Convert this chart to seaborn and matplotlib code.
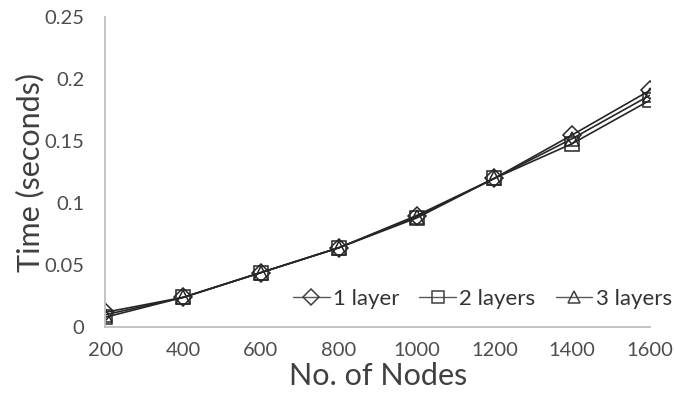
import matplotlib
matplotlib.use("Agg")
import matplotlib.pyplot as plt
import seaborn as sns
import pandas as pd

nodes = [200, 400, 600, 800, 1000, 1200, 1400, 1600]
layer1 = [0.012, 0.024, 0.044, 0.064, 0.090, 0.120, 0.155, 0.191]
layer2 = [0.008, 0.024, 0.044, 0.064, 0.088, 0.120, 0.148, 0.183]
layer3 = [0.010, 0.024, 0.044, 0.064, 0.089, 0.120, 0.152, 0.187]
series_names = ["1 layer", "2 layers", "3 layers"]
y_ticks = [0, 0.05, 0.1, 0.15, 0.2, 0.25]
y_tick_labels = ["0", "0.05", "0.1", "0.15", "0.2", "0.25"]

sns.set_theme(style="white")
plt.rcParams["font.family"] = ["Lato", "DejaVu Sans"]

frames = []
for name, vals in zip(series_names, [layer1, layer2, layer3]):
    frames.append(pd.DataFrame({"Nodes": nodes, "Time": vals, "Series": name}))
df = pd.concat(frames, ignore_index=True)

fig = plt.figure(figsize=(6.75, 3.98), dpi=100)
ax = fig.add_axes([0.156, 0.178, 0.807, 0.779])

line_color = "#262626"
sns.lineplot(
    data=df, x="Nodes", y="Time", hue="Series", style="Series",
    palette=[line_color] * 3, markers=["D", "s", "^"], dashes=False,
    markersize=9.5, markerfacecolor="none", markeredgecolor=line_color,
    markeredgewidth=1.1, linewidth=1.2, ax=ax,
)

ax.set_xlim(200, 1600)
ax.set_ylim(0, 0.25)
ax.set_xticks(nodes)
ax.set_xticklabels([str(n) for n in nodes])
ax.set_yticks(y_ticks)
ax.set_yticklabels(y_tick_labels)

axis_gray = "#bfbfbf"
for side in ["top", "right"]:
    ax.spines[side].set_visible(False)
for side in ["left", "bottom"]:
    ax.spines[side].set_color(axis_gray)
    ax.spines[side].set_linewidth(1.3)
ax.spines["bottom"].set_zorder(0)
ax.tick_params(axis="both", which="major", direction="out", length=5,
               width=1.2, color=axis_gray, labelsize=14.5, labelcolor="#4d4d4d")
ax.tick_params(axis="x", pad=6)
ax.tick_params(axis="y", pad=10)

ax.set_xlabel("No. of Nodes", fontsize=22, color="#404040", labelpad=2)
ax.set_ylabel("Time (seconds)", fontsize=22, color="#404040", labelpad=0)

handles, labels = ax.get_legend_handles_labels()
leg = ax.legend(handles, labels, loc="lower right", bbox_to_anchor=(1.056, 0.03),
                ncol=3, frameon=False, fontsize=16, labelcolor="#333333",
                handlelength=1.65, handletextpad=0.15, columnspacing=0.9,
                borderaxespad=0.0)
for h in leg.legend_handles:
    h.set_markersize(8)
    h.set_linewidth(1.0)
    h.set_color("#595959")
    h.set_markeredgecolor("#404040")

fig.savefig("out.png", dpi=100)
